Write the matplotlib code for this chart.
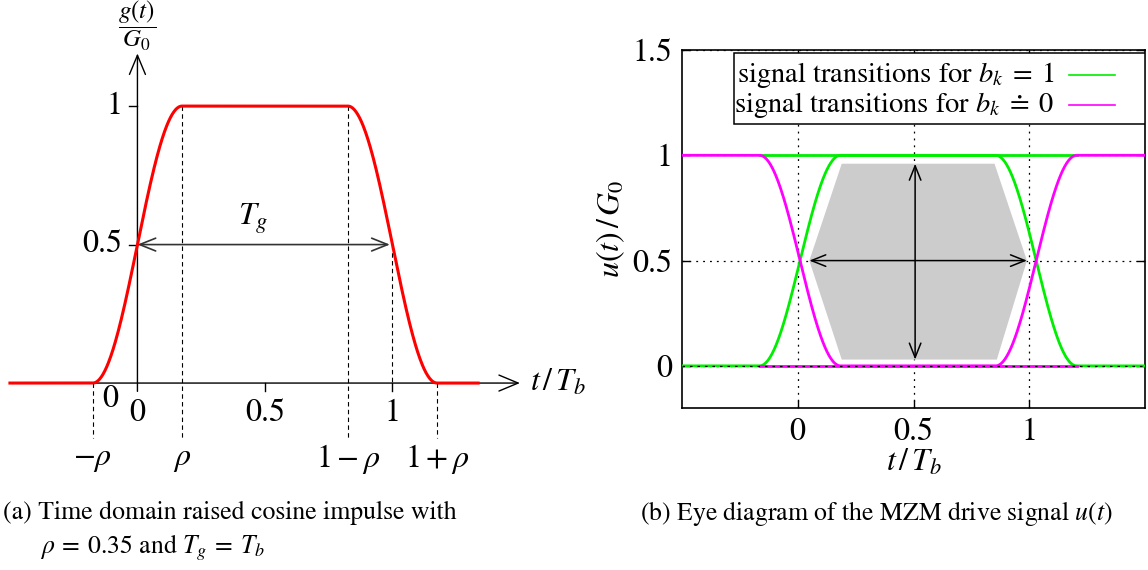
import numpy as np
import matplotlib.pyplot as plt
from matplotlib.patches import Polygon, Rectangle

plt.rcParams['font.family'] = ['STIXGeneral', 'DejaVu Serif']
plt.rcParams['mathtext.fontset'] = 'stix'
plt.rcParams['font.size'] = 23

# ---- data (a): raised cosine impulse
rho = 0.35
g_t_range = [-0.5, 1.336]
g_yticks = [0.5, 1]
g_yticklabels = ['0.5', '1']
g_xticks = [0, 0.5, 1]
g_xticklabels = ['0', '0.5', '1']
rho_marks = [-rho / 2, rho / 2, 1 - rho / 2, 1 + rho / 2]
rho_tops = [0, 1, 1, 0]
rho_labels = [r'$-\rho$', r'$\rho$', r'$1-\rho$', r'$1+\rho$']

# ---- data (b): eye diagram
eye_centers = [0.01, 1.03]      # where the transitions cross 0.5
eye_t_range = [-0.5, 1.5]
eye_hex_t = [0.19, 0.85, 0.99, 0.86, 0.19, 0.05]
eye_hex_u = [0.96, 0.96, 0.5, 0.03, 0.03, 0.5]
eye_xticks = [0, 0.5, 1]
eye_xticklabels = ['0', '0.5', '1']
eye_yticks = [0, 0.5, 1, 1.5]
eye_yticklabels = ['0', '0.5', '1', '1.5']
legend_labels = [r'signal transitions for $b_k\;=\;1$',
                 r'signal transitions for $b_k\;\doteq\;0$']
legend_colors = ['#00ee00', '#ff00ff']


def rc_step(t, c, w):
    # raised cosine edge 0 -> 1 centred on c with width w
    x = np.clip((t - (c - w / 2)) / w, 0, 1)
    return 0.5 * (1 - np.cos(np.pi * x))


fig = plt.figure(figsize=(11.48, 5.70), dpi=100)

# ================= (a)
ax1 = fig.add_axes([0, 90 / 570, 600 / 1148, 480 / 570])
ax1.set_xlim(-0.539, 1.814)
ax1.set_ylim(-0.35, 1.383)
ax1.axis('off')

arr = dict(arrowstyle='->,head_length=0.6,head_width=0.25', color='k', lw=1,
           shrinkA=0, shrinkB=0)
ax1.annotate('', xy=(1.5, 0), xytext=(-0.5, 0), arrowprops=arr)
ax1.annotate('', xy=(0, 1.19), xytext=(0, -0.03), arrowprops=arr)

for v in g_yticks:
    ax1.plot([-0.035, 0], [v, v], color='k', lw=1)
for v in g_xticks[1:]:
    ax1.plot([v, v], [0, -0.03], color='k', lw=1)

for m, top in zip(rho_marks, rho_tops):
    ax1.plot([m, m], [top, -0.198], color='k', lw=0.8, dashes=(4, 3))
ax1.plot([1, 1], [0.5, 0], color='k', lw=0.8, dashes=(4, 3))

t = np.linspace(g_t_range[0], g_t_range[1], 800)
g = rc_step(t, 0, rho) * (1 - rc_step(t, 1, rho))
ax1.plot(t, g, color='red', lw=2.2, zorder=5)

ax1.annotate('', xy=(0.99, 0.5), xytext=(0.0, 0.5),
             arrowprops=dict(arrowstyle='<->,head_length=0.5,head_width=0.2',
                             color='#333333', lw=1.2, shrinkA=0, shrinkB=0))
ax1.text(0.455, 0.593, r'$T_g$', ha='center', va='center')

for v, lab in zip(g_yticks, g_yticklabels):
    ax1.text(-0.06, v, lab, ha='right', va='center')
for v, lab in zip(g_xticks, g_xticklabels):
    ax1.text(v, -0.108, lab, ha='center', va='center')
ax1.text(-0.105, -0.06, '0', ha='center', va='center')
for m, lab in zip(rho_marks, rho_labels):
    ax1.text(m, -0.275, lab, ha='center', va='center')
ax1.text(1.54, 0, r'$t\,/\,T_b$', ha='left', va='center')
ax1.text(0, 1.29, r'$\dfrac{g(t)}{G_0}$', ha='center', va='center', fontsize=18)

# ================= (b)
ax2 = fig.add_axes([682 / 1148, (570 - 408) / 570, 463 / 1148, 358 / 570])
ax2.set_xlim(eye_t_range)
ax2.set_ylim(-0.2, 1.5)
ax2.set_xticks(eye_xticks)
ax2.set_xticklabels(eye_xticklabels)
ax2.set_yticks(eye_yticks)
ax2.set_yticklabels(eye_yticklabels)
ax2.tick_params(direction='in', top=True, right=True, length=6, width=1, pad=7)
for s in ax2.spines.values():
    s.set_linewidth(1.2)
ax2.grid(True, color='k', linestyle=(0, (1.5, 4)), lw=0.9, zorder=0)
ax2.set_axisbelow(True)

ax2.add_patch(Polygon(np.column_stack([eye_hex_t, eye_hex_u]), closed=True,
                      facecolor='#cccccc', edgecolor='none', zorder=1))

te = np.linspace(eye_t_range[0], eye_t_range[1], 1000)
w = rc_step(te, eye_centers[0], rho) * (1 - rc_step(te, eye_centers[1], rho))
lo, hi = eye_centers[0] - rho / 2, eye_centers[1] + rho / 2
ax2.plot([lo, hi], [1, 1], color=legend_colors[0], lw=2, zorder=3)
ax2.plot(te, w, color=legend_colors[0], lw=2, zorder=3)
ax2.plot([lo, hi], [0, 0], color=legend_colors[1], lw=2, zorder=4)
ax2.plot(te, 1 - w, color=legend_colors[1], lw=2, zorder=4)
ax2.plot(eye_t_range, [0, 0], color='k', lw=0.9, linestyle=(0, (2, 4)), zorder=5)

darr = dict(arrowstyle='<->,head_length=0.45,head_width=0.18', color='k',
            lw=1.1, shrinkA=0, shrinkB=0)
ax2.annotate('', xy=(0.507, 0.96), xytext=(0.507, 0.03), arrowprops=darr, zorder=6)
ax2.annotate('', xy=(0.99, 0.5), xytext=(0.05, 0.5), arrowprops=darr, zorder=6)

ax2.add_patch(Rectangle((-0.275, 1.147), 1.775, 0.337, facecolor='white',
                        edgecolor='k', lw=1.1, zorder=7))
for yy, lab, col in zip([1.38, 1.24], legend_labels, legend_colors):
    ax2.text(1.11, yy, lab, ha='right', va='center', zorder=8, fontsize=20.5)
    ax2.plot([1.17, 1.37], [yy, yy], color=col, lw=1.2, zorder=8)

ax2.set_xlabel(r'$t\,/\,T_b$', labelpad=0)
ax2.set_ylabel(r'$u(t)\,/\,G_0$', labelpad=4)

# ================= captions
cap = 18.5
fig.text(3 / 1148, 1 - 513 / 570, '(a) Time domain raised cosine impulse with',
         va='center', ha='left', fontsize=cap)
fig.text(40 / 1148, 1 - 548 / 570, r'$\rho\:=\:0.35$ and $T_g\:=\:T_b$',
         va='center', ha='left', fontsize=cap)
fig.text(640 / 1148, 1 - 513 / 570, r'(b) Eye diagram of the MZM drive signal $u(t)$',
         va='center', ha='left', fontsize=cap)

fig.savefig('out.png', dpi=100)
